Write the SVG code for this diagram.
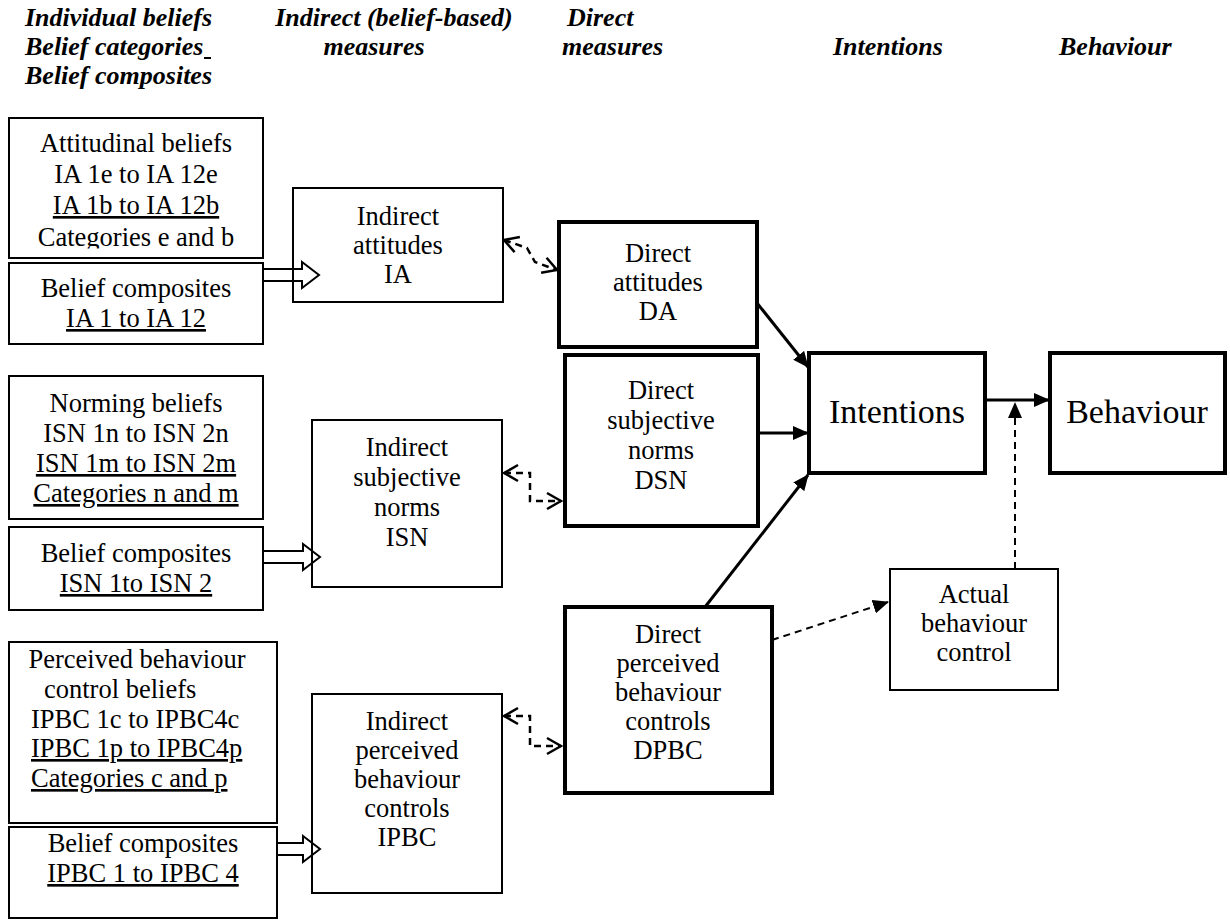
<svg xmlns="http://www.w3.org/2000/svg" width="1230" height="920" viewBox="0 0 1230 920">
  <style>
    .hd { font-family: "Liberation Serif", "Times New Roman", serif; font-size: 26px; font-weight: bold; font-style: italic; fill: #000; }
    .t { font-family: "Liberation Serif", "Times New Roman", serif; font-size: 26.5px; fill: #000; text-anchor: middle; }
    .ts { font-family: "Liberation Serif", "Times New Roman", serif; font-size: 26.5px; fill: #000; text-anchor: start; }
    .big { font-family: "Liberation Serif", "Times New Roman", serif; font-size: 34px; fill: #000; text-anchor: middle; }
    .u { text-decoration: underline; }
    .thin { fill: #fff; stroke: #000; stroke-width: 2; }
    .thick { fill: #fff; stroke: #000; stroke-width: 4; }
    .solid { fill: none; stroke: #000; stroke-width: 3; }
    .dash { fill: none; stroke: #000; stroke-width: 2.5; stroke-dasharray: 7 5; }
    .block { fill: none; stroke: #000; stroke-width: 2; stroke-linejoin: miter; }
  </style>
  <defs>
    <marker id="tri" viewBox="0 0 16 14" refX="15" refY="7" markerWidth="16" markerHeight="14" markerUnits="userSpaceOnUse" orient="auto">
      <path d="M0,0 L16,7 L0,14 Z" fill="#000" stroke="none"/>
    </marker>
    <marker id="chev" viewBox="0 0 18 20" refX="16" refY="10" markerWidth="18" markerHeight="20" markerUnits="userSpaceOnUse" orient="auto-start-reverse">
      <path d="M2,2 L16,10 L2,18" fill="none" stroke="#000" stroke-width="2.5" stroke-dasharray="none"/>
    </marker>
    <clipPath id="clipA1">
      <rect x="9" y="118" width="254" height="130.5"/>
    </clipPath>
  </defs>

  <!-- column headings -->
  <g id="headings">
    <text class="hd" x="25" y="26">Individual beliefs</text>
    <text class="hd" x="25" y="55">Belief categories</text>
    <line x1="204" y1="58" x2="211" y2="58" stroke="#000" stroke-width="2"/>
    <text class="hd" x="25" y="84">Belief composites</text>
    <text class="hd" x="394" y="26" text-anchor="middle">Indirect (belief-based)</text>
    <text class="hd" x="374" y="55" text-anchor="middle">measures</text>
    <text class="hd" x="567" y="26">Direct</text>
    <text class="hd" x="562" y="55">measures</text>
    <text class="hd" x="833" y="55">Intentions</text>
    <text class="hd" x="1059" y="55">Behaviour</text>
  </g>

  <!-- attitude beliefs -->
  <g id="attitudinal-beliefs">
    <rect class="thin" x="9" y="118" width="254" height="140"/>
    <g clip-path="url(#clipA1)">
      <text class="t" x="136" y="152">Attitudinal beliefs</text>
      <text class="t" x="136" y="183">IA 1e to IA 12e</text>
      <text class="t u" x="136" y="214">IA 1b to IA 12b</text>
      <text class="t" x="136" y="246">Categories e and b</text>
    </g>
  </g>
  <g id="ia-composites">
    <rect class="thin" x="9" y="263" width="254" height="81"/>
    <text class="t" x="136" y="297">Belief composites</text>
    <text class="t u" x="136" y="327">IA 1 to IA 12</text>
  </g>

  <!-- norming beliefs -->
  <g id="norming-beliefs">
    <rect class="thin" x="9" y="376" width="254" height="143"/>
    <text class="t" x="136" y="412">Norming beliefs</text>
    <text class="t" x="136" y="442">ISN 1n to ISN 2n</text>
    <text class="t u" x="136" y="472">ISN 1m to ISN 2m</text>
    <text class="t u" x="136" y="502">Categories n and m</text>
  </g>
  <g id="isn-composites">
    <rect class="thin" x="9" y="527" width="254" height="83"/>
    <text class="t" x="136" y="562">Belief composites</text>
    <text class="t u" x="136" y="592">ISN 1to ISN 2</text>
  </g>

  <!-- perceived behaviour control beliefs -->
  <g id="pbc-beliefs">
    <rect class="thin" x="9" y="642" width="268" height="181"/>
    <text class="t" x="137" y="668">Perceived behaviour</text>
    <text class="ts" x="44" y="698">control beliefs</text>
    <text class="ts" x="31" y="728">IPBC 1c to IPBC4c</text>
    <text class="ts u" x="31" y="757">IPBC 1p to IPBC4p</text>
    <text class="ts u" x="31" y="787">Categories c and p</text>
  </g>
  <g id="ipbc-composites">
    <rect class="thin" x="9" y="827" width="268" height="91"/>
    <text class="t" x="143" y="852">Belief composites</text>
    <text class="t u" x="143" y="882">IPBC 1 to IPBC 4</text>
  </g>

  <!-- indirect measures -->
  <g id="indirect-attitudes">
    <rect class="thin" x="293" y="188" width="210" height="114"/>
    <text class="t" x="398" y="225">Indirect</text>
    <text class="t" x="398" y="254">attitudes</text>
    <text class="t" x="398" y="283">IA</text>
  </g>
  <g id="indirect-subjective-norms">
    <rect class="thin" x="312" y="420" width="190" height="167"/>
    <text class="t" x="407" y="456">Indirect</text>
    <text class="t" x="407" y="486">subjective</text>
    <text class="t" x="407" y="516">norms</text>
    <text class="t" x="407" y="546">ISN</text>
  </g>
  <g id="indirect-pbc">
    <rect class="thin" x="312" y="694" width="190" height="199"/>
    <text class="t" x="407" y="730">Indirect</text>
    <text class="t" x="407" y="759">perceived</text>
    <text class="t" x="407" y="788">behaviour</text>
    <text class="t" x="407" y="817">controls</text>
    <text class="t" x="407" y="846">IPBC</text>
  </g>

  <!-- direct measures -->
  <g id="direct-attitudes">
    <rect class="thick" x="559" y="222" width="198" height="125"/>
    <text class="t" x="658" y="262">Direct</text>
    <text class="t" x="658" y="291">attitudes</text>
    <text class="t" x="658" y="320">DA</text>
  </g>
  <g id="direct-subjective-norms">
    <rect class="thick" x="565" y="355" width="193" height="171"/>
    <text class="t" x="661" y="399">Direct</text>
    <text class="t" x="661" y="429">subjective</text>
    <text class="t" x="661" y="459">norms</text>
    <text class="t" x="661" y="489">DSN</text>
  </g>
  <g id="direct-pbc">
    <rect class="thick" x="565" y="607" width="207" height="186"/>
    <text class="t" x="668" y="643">Direct</text>
    <text class="t" x="668" y="672">perceived</text>
    <text class="t" x="668" y="701">behaviour</text>
    <text class="t" x="668" y="730">controls</text>
    <text class="t" x="668" y="759">DPBC</text>
  </g>

  <!-- intentions, behaviour, actual control -->
  <g id="intentions">
    <rect class="thick" x="809" y="353" width="176" height="120"/>
    <text class="big" x="897" y="423">Intentions</text>
  </g>
  <g id="behaviour">
    <rect class="thick" x="1050" y="353" width="175" height="120"/>
    <text class="big" x="1137" y="423">Behaviour</text>
  </g>
  <g id="actual-behaviour-control">
    <rect class="thin" x="890" y="569" width="168" height="121"/>
    <text class="t" x="974" y="603">Actual</text>
    <text class="t" x="974" y="632">behaviour</text>
    <text class="t" x="974" y="661">control</text>
  </g>

  <!-- connectors -->
  <g id="connectors">
    <!-- block arrows from composites to indirect measures -->
    <path class="block" d="M264,269 H302 V262 L319,275 L302,288 V281 H264"/>
    <path class="block" d="M264,551 H303 V544 L320,557 L303,570 V563 H264"/>
    <path class="block" d="M278,843 H303 V836 L320,849 L303,862 V855 H278"/>

    <!-- indirect / direct correspondence -->
    <path class="dash" d="M504,240 L527,248 L535,262 L557,270" marker-start="url(#chev)" marker-end="url(#chev)"/>
    <path class="dash" d="M504,473 H530 V501 H561" marker-start="url(#chev)" marker-end="url(#chev)"/>
    <path class="dash" d="M504,716 H530 V746 H561" marker-start="url(#chev)" marker-end="url(#chev)"/>

    <!-- direct measures to intentions -->
    <path class="solid" d="M757,303 L808,367" marker-end="url(#tri)"/>
    <path class="solid" d="M758,433 H808" marker-end="url(#tri)"/>
    <path class="solid" d="M705,607 L808,475" marker-end="url(#tri)"/>

    <!-- intentions to behaviour -->
    <path class="solid" d="M985,400 H1049" marker-end="url(#tri)"/>

    <!-- actual control -->
    <path class="dash" style="stroke-width:2" d="M772,640 L888,602" marker-end="url(#tri)"/>
    <path class="dash" style="stroke-width:2" d="M1015,569 V403" marker-end="url(#tri)"/>
  </g>
</svg>
